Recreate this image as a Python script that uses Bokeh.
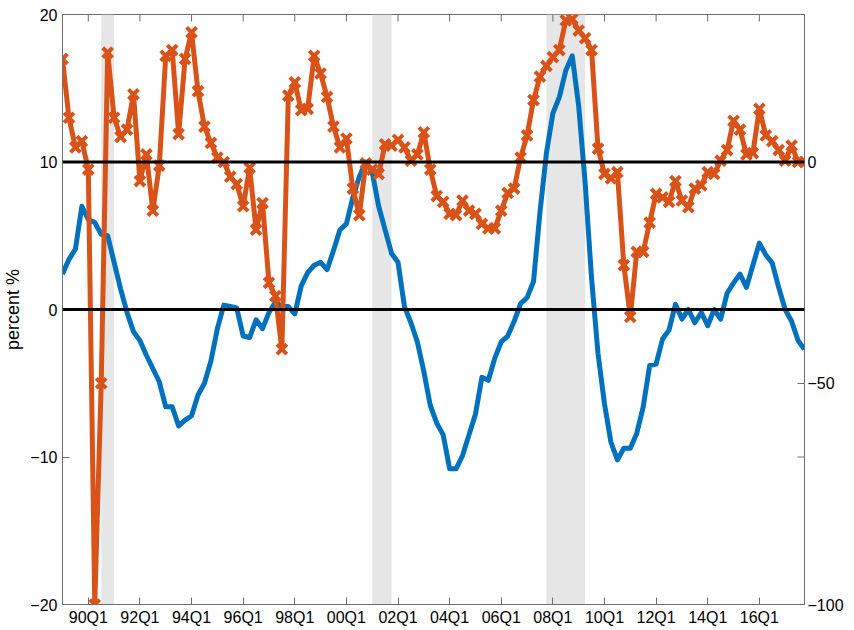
import math
from bokeh.plotting import figure
from bokeh.models import Range1d, LinearAxis, FixedTicker, Span, BoxAnnotation, ColumnDataSource
from bokeh.embed import file_html
from bokeh.resources import INLINE

# ---------------- data ----------------
quarters = [f"{y}Q{q}" for y in range(1989, 2018) for q in range(1, 5)]

# blue series (left axis, percent)
blue = [2.4, 3.4, 4.1, 7.0, 6.1, 5.9, 5.1, 5.0, 3.2, 1.4,
        -0.2, -1.5, -2.1, -3.1, -4.0, -4.9, -6.6, -6.6, -7.9, -7.5,
        -7.2, -5.8, -5.0, -3.5, -1.3, 0.3, 0.2, 0.1, -1.8, -1.9,
        -0.7, -1.3, -0.2, 0.5, 0.2, 0.2, -0.3, 1.6, 2.5, 3.0,
        3.2, 2.7, 4.0, 5.4, 5.8, 7.6, 9.0, 10.0, 9.3, 7.0,
        5.4, 3.8, 3.2, 0.2, -0.9, -2.2, -4.2, -6.5, -7.7, -8.5,
        -10.8, -10.8, -9.9, -8.5, -7.1, -4.6, -4.8, -3.3, -2.2, -1.8,
        -0.8, 0.4, 0.8, 1.9, 6.6, 10.6, 13.3, 14.4, 16.2, 17.2,
        13.8, 8.6, 2.1, -3.0, -6.4, -9.0, -10.2, -9.4, -9.4, -8.4,
        -6.6, -3.8, -3.7, -2.0, -1.4, 0.35, -0.65, 0.0, -0.9, -0.2,
        -1.1, 0.0, -0.65, 1.1, 1.8, 2.4, 1.5, 3.0, 4.5, 3.7,
        3.15, 1.5, 0.0, -0.8, -2.1, -2.7]

# orange series (right axis)
orange = [23.3, 10.0, 3.3, 4.7, -1.7, -100.0, -50.0, 24.7, 10.0, 5.7,
          7.3, 15.3, -4.3, 1.7, -11.0, -0.8, 24.0, 25.3, 6.3, 23.3,
          29.3, 16.0, 8.0, 4.3, 1.0, 0.0, -3.3, -5.0, -10.0, -1.3,
          -15.3, -9.3, -27.3, -30.3, -42.3, 15.0, 18.0, 11.7, 12.0, 24.0,
          20.0, 14.7, 8.0, 3.3, 5.3, -6.0, -12.0, -0.3, -1.7, -2.7,
          4.0, 3.7, 5.0, 3.3, 0.3, 1.7, 6.7, -1.7, -7.7, -9.0,
          -11.7, -12.0, -8.7, -11.0, -11.7, -14.0, -15.0, -15.0, -11.0, -7.0,
          -6.0, 1.0, 6.0, 14.0, 19.3, 21.7, 23.7, 25.3, 32.0, 32.3,
          29.7, 28.0, 25.3, 3.0, -2.7, -3.7, -2.3, -23.3, -35.0, -20.3,
          -20.3, -13.7, -7.2, -8.0, -9.0, -4.3, -8.7, -10.2, -6.0, -5.3,
          -2.3, -2.7, 0.3, 2.7, 9.3, 7.3, 1.7, 2.0, 12.0, 6.0,
          4.7, 2.7, 0.3, 3.7, 0.0, 0.0]

tick_labels = ["90Q1", "92Q1", "94Q1", "96Q1", "98Q1", "00Q1", "02Q1",
               "04Q1", "06Q1", "08Q1", "10Q1", "12Q1", "14Q1", "16Q1"]
left_ticks = [-20, -10, 0, 10, 20]
right_ticks = [-100, -50, 0]
recessions = [("1990Q3", "1991Q1"), ("2001Q1", "2001Q4"), ("2007Q4", "2009Q2")]

LEFT_LIM = (-20, 20)
RIGHT_LIM = (-100, 100 / 3)


def qidx(short):
    yy = int(short[:2])
    year = 1900 + yy if yy >= 50 else 2000 + yy
    return quarters.index(f"{year}{short[2:]}")


x = list(range(len(quarters)))
src = ColumnDataSource(dict(x=x, blue=blue, orange=orange))
tick_pos = [qidx(t) for t in tick_labels]

FONT = "Liberation Sans"
AX = "#6e6e6e"
TICK = 7

p = figure(width=846, height=628, output_backend="svg", toolbar_location=None,
           x_range=Range1d(0, len(quarters) - 1), y_range=Range1d(*LEFT_LIM),
           min_border_left=55, min_border_right=0, min_border_top=14, min_border_bottom=0)
p.extra_y_ranges = {"right": Range1d(*RIGHT_LIM)}
p.xgrid.visible = False
p.ygrid.visible = False
p.outline_line_color = AX
p.outline_line_width = 1
p.background_fill_color = "white"
p.border_fill_color = "white"

# recession shading
for a, b in recessions:
    p.add_layout(BoxAnnotation(left=quarters.index(a), right=quarters.index(b),
                               fill_color="#e6e6e6", fill_alpha=1.0, line_alpha=0,
                               level="underlay"))

# mirrored tick marks on the top edge and the right edge (clipped to the frame)
p.scatter(tick_pos, [LEFT_LIM[1]] * len(tick_pos), marker="dash", angle=math.pi / 2,
          size=2 * TICK, line_color=AX, line_width=1)
p.scatter([x[-1]] * len(left_ticks), left_ticks, marker="dash",
          size=2 * TICK, line_color=AX, line_width=1)

# series
p.line("x", "blue", source=src, line_color="#0072BD", line_width=5, line_join="round")
p.line("x", "orange", source=src, y_range_name="right", line_color="#D95319",
       line_width=5, line_join="round")
p.scatter("x", "orange", source=src, y_range_name="right", marker="x", size=14,
          line_color="#D95319", line_width=4)

# zero lines
p.add_layout(Span(location=0, dimension="width", line_color="black", line_width=3))
p.add_layout(Span(location=0, dimension="width", y_range_name="right",
                  line_color="black", line_width=3))


def style(ax):
    ax.axis_line_color = AX
    ax.major_tick_line_color = AX
    ax.major_tick_in = TICK
    ax.major_tick_out = 0
    ax.minor_tick_line_color = None
    ax.major_label_text_font = FONT
    ax.major_label_text_font_size = "16px"
    ax.major_label_text_color = "black"


# bottom axis
xa = p.xaxis[0]
xa.ticker = FixedTicker(ticks=tick_pos)
xa.major_label_overrides = {pos: lab for pos, lab in zip(tick_pos, tick_labels)}
style(xa)
xa.major_label_standoff = 4

# left axis
ya = p.yaxis[0]
ya.ticker = FixedTicker(ticks=left_ticks)
style(ya)
ya.major_label_standoff = 5
ya.axis_label = "percent %"
ya.axis_label_text_font = FONT
ya.axis_label_text_font_size = "18px"
ya.axis_label_text_font_style = "normal"
ya.axis_label_text_color = "black"
ya.axis_label_standoff = 4

# right axis
ra = LinearAxis(y_range_name="right", ticker=FixedTicker(ticks=right_ticks))
style(ra)
ra.major_label_standoff = 3
p.add_layout(ra, "right")

open("out.html", "w").write(file_html(p, INLINE))
